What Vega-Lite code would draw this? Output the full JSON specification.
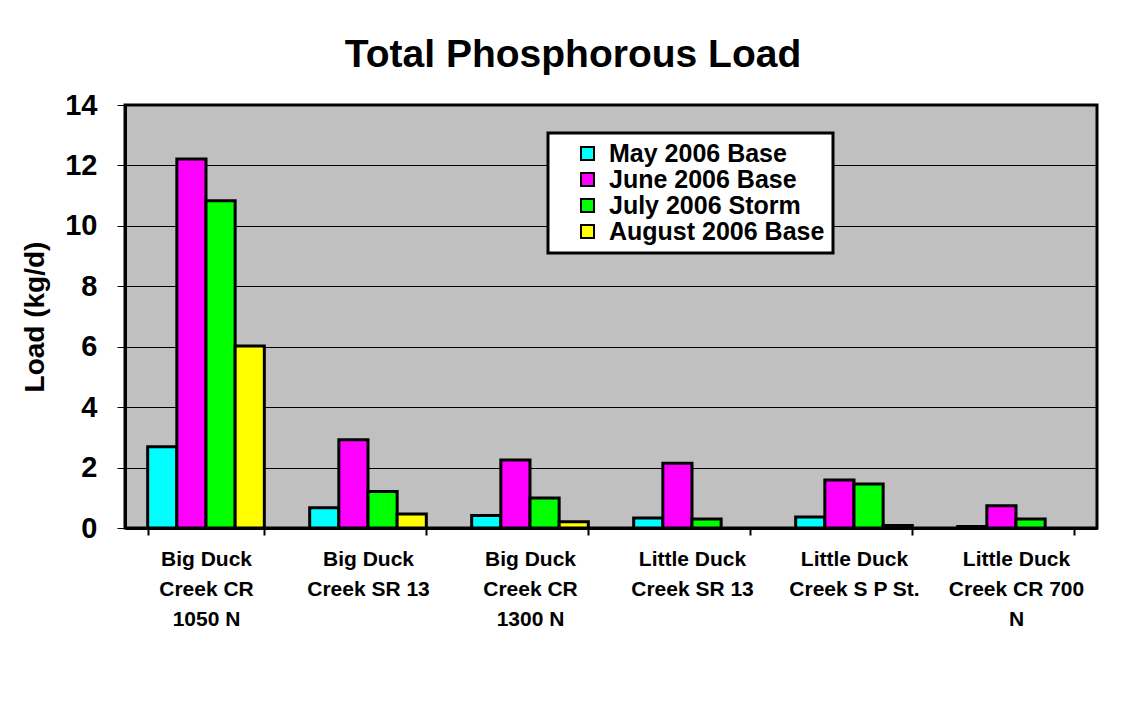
{
  "$schema": "https://vega.github.io/schema/vega-lite/v6.json",
  "autosize": "none",
  "width": 972,
  "height": 423,
  "padding": {"left": 125, "top": 105, "right": 33, "bottom": 183},
  "background": "white",
  "title": {
    "text": "Total Phosphorous Load",
    "font": "Liberation Sans",
    "fontSize": 39,
    "fontWeight": "bold",
    "color": "black",
    "anchor": "middle",
    "frame": "group",
    "dx": -38,
    "offset": 16
  },
  "data": {
    "values": [
      {"site": "Big Duck\nCreek CR\n1050 N", "period": "May 2006 Base", "load": 2.69},
      {"site": "Big Duck\nCreek CR\n1050 N", "period": "June 2006 Base", "load": 12.21},
      {"site": "Big Duck\nCreek CR\n1050 N", "period": "July 2006 Storm", "load": 10.83},
      {"site": "Big Duck\nCreek CR\n1050 N", "period": "August 2006 Base", "load": 6.02},
      {"site": "Big Duck\nCreek SR 13", "period": "May 2006 Base", "load": 0.67},
      {"site": "Big Duck\nCreek SR 13", "period": "June 2006 Base", "load": 2.92},
      {"site": "Big Duck\nCreek SR 13", "period": "July 2006 Storm", "load": 1.21},
      {"site": "Big Duck\nCreek SR 13", "period": "August 2006 Base", "load": 0.46},
      {"site": "Big Duck\nCreek CR\n1300 N", "period": "May 2006 Base", "load": 0.41},
      {"site": "Big Duck\nCreek CR\n1300 N", "period": "June 2006 Base", "load": 2.25},
      {"site": "Big Duck\nCreek CR\n1300 N", "period": "July 2006 Storm", "load": 0.99},
      {"site": "Big Duck\nCreek CR\n1300 N", "period": "August 2006 Base", "load": 0.21},
      {"site": "Little Duck\nCreek SR 13", "period": "May 2006 Base", "load": 0.33},
      {"site": "Little Duck\nCreek SR 13", "period": "June 2006 Base", "load": 2.14},
      {"site": "Little Duck\nCreek SR 13", "period": "July 2006 Storm", "load": 0.3},
      {"site": "Little Duck\nCreek S P St.", "period": "May 2006 Base", "load": 0.36},
      {"site": "Little Duck\nCreek S P St.", "period": "June 2006 Base", "load": 1.59},
      {"site": "Little Duck\nCreek S P St.", "period": "July 2006 Storm", "load": 1.46},
      {"site": "Little Duck\nCreek S P St.", "period": "August 2006 Base", "load": 0.08},
      {"site": "Little Duck\nCreek CR 700\nN", "period": "May 2006 Base", "load": 0.05},
      {"site": "Little Duck\nCreek CR 700\nN", "period": "June 2006 Base", "load": 0.74},
      {"site": "Little Duck\nCreek CR 700\nN", "period": "July 2006 Storm", "load": 0.3}
    ]
  },
  "mark": {"type": "bar", "stroke": "black", "strokeWidth": 3},
  "encoding": {
    "x": {
      "field": "site",
      "type": "nominal",
      "sort": null,
      "scale": {"paddingInner": 0.28, "paddingOuter": 0.14},
      "axis": {
        "title": null,
        "labelAngle": 0,
        "labelExpr": "split(datum.label, '\\n')",
        "labelFont": "Liberation Sans",
        "labelFontSize": 21,
        "labelFontWeight": "bold",
        "labelColor": "black",
        "labelLineHeight": 30,
        "labelPadding": 13,
        "tickBand": "extent",
        "tickSize": 7,
        "tickWidth": 2,
        "tickColor": "black",
        "domainColor": "black",
        "domainWidth": 3
      }
    },
    "xOffset": {
      "field": "period",
      "type": "nominal",
      "scale": {"domain": ["May 2006 Base", "June 2006 Base", "July 2006 Storm", "August 2006 Base"]}
    },
    "y": {
      "field": "load",
      "type": "quantitative",
      "scale": {"domain": [0, 14], "nice": false},
      "axis": {
        "title": "Load (kg/d)",
        "titleFont": "Liberation Sans",
        "titleFontSize": 28,
        "titleFontWeight": "bold",
        "titleColor": "black",
        "titlePadding": 15,
        "values": [0, 2, 4, 6, 8, 10, 12, 14],
        "labelFont": "Liberation Sans",
        "labelFontSize": 29,
        "labelFontWeight": "bold",
        "labelColor": "black",
        "labelPadding": 20,
        "tickSize": 8,
        "tickColor": "black",
        "tickWidth": 1,
        "grid": true,
        "gridColor": "black",
        "gridWidth": 1,
        "domainColor": "black",
        "domainWidth": 3
      }
    },
    "color": {
      "field": "period",
      "type": "nominal",
      "scale": {
        "domain": ["May 2006 Base", "June 2006 Base", "July 2006 Storm", "August 2006 Base"],
        "range": ["#00FFFF", "#FF00FF", "#00FF00", "#FFFF00"]
      },
      "legend": {
        "title": null,
        "orient": "none",
        "legendX": 423,
        "legendY": 28,
        "fillColor": "white",
        "strokeColor": "black",
        "padding": 8,
        "symbolType": "square",
        "symbolSize": 169,
        "symbolStrokeColor": "black",
        "symbolStrokeWidth": 2,
        "symbolOpacity": 1,
        "symbolOffset": 19,
        "labelFont": "Liberation Sans",
        "labelFontSize": 25,
        "labelFontWeight": "bold",
        "labelColor": "black",
        "labelOffset": 9,
        "rowPadding": 0,
        "labelLimit": 400,
        "encoding": {"legend": {"strokeWidth": {"value": 3}}}
      }
    }
  },
  "config": {
    "view": {"fill": "#C0C0C0", "stroke": "black", "strokeWidth": 3},
    "axis": {"gridOpacity": 1}
  }
}
